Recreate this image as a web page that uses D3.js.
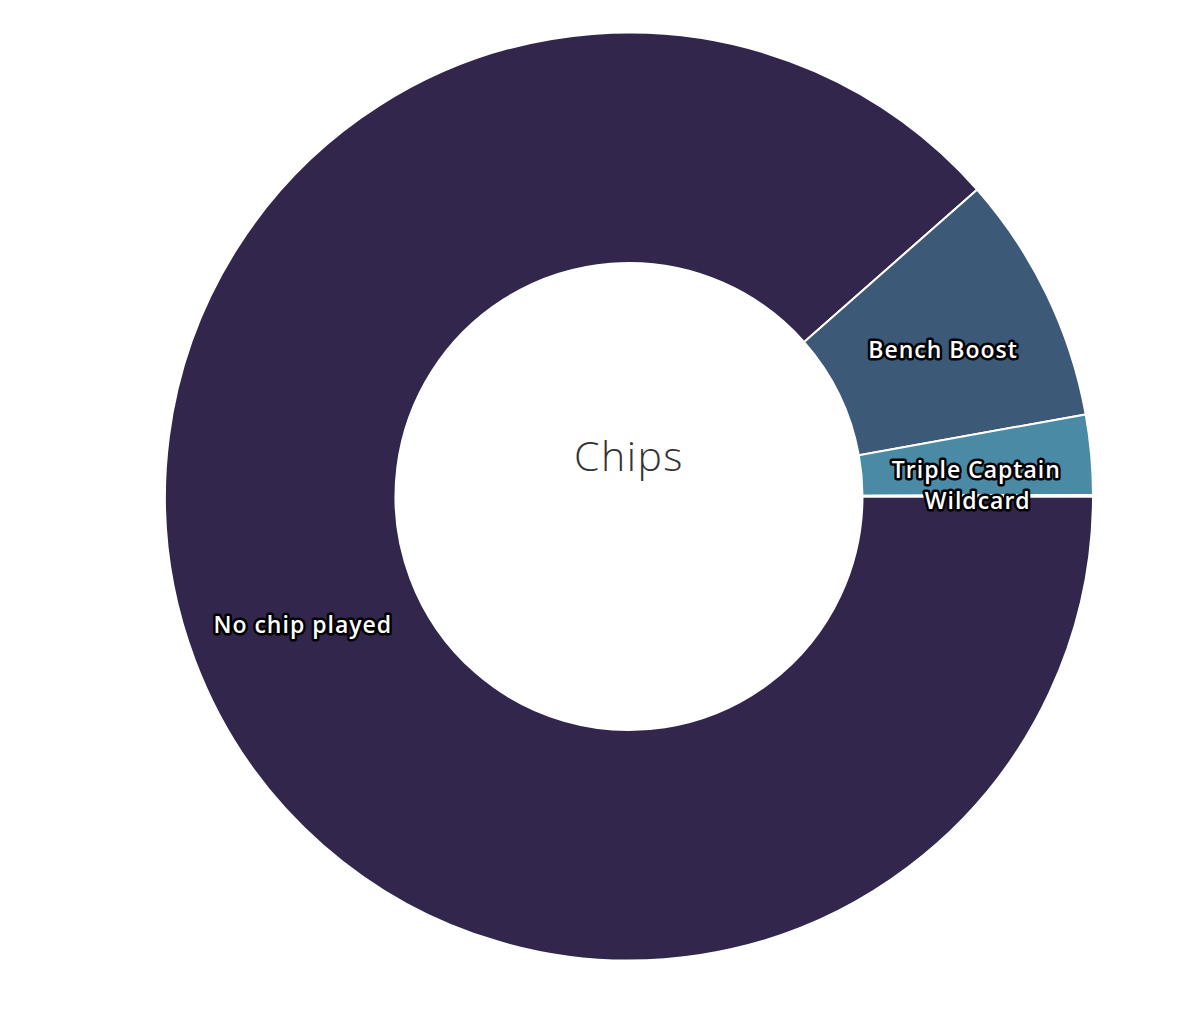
<!DOCTYPE html>
<html>
<head>
<meta charset="utf-8">
<script src="https://cdn.jsdelivr.net/npm/d3@7"></script>
<style>
  body { margin: 0; background: #fff; }
  .lbl { font-family: "Open Sans", Lato, sans-serif; font-weight: 600; font-size: 23px; letter-spacing: 1px;
         fill: #fff; stroke: #000; stroke-width: 5px; stroke-linejoin: round; paint-order: stroke; }
</style>
</head>
<body>
<div id="view"></div>
<script>
var width = 1200, height = 1018;
var cx = 629, cy = 496.5;
var outerR = 464, innerR = 233.5;

// chip usage share (%)
var chips = ["No chip played", "Bench Boost", "Triple Captain", "Wildcard"];
var shares = [88.5, 8.67, 2.78, 0.05];
var colors = ["#33264c", "#3c5a78", "#4a8aa5", "#5fb3b3"];

var svg = d3.select("#view").append("svg")
	.attr("width", width)
	.attr("height", height);

var datas = chips.map(function(c, i) { return { name: c, value: shares[i] }; });

// starts at 3 o'clock, runs clockwise
var pie = d3.pie()
	.sort(null)
	.value(function(d) { return d.value; })
	.startAngle(Math.PI / 2)
	.endAngle(Math.PI / 2 + 2 * Math.PI);

var arc = d3.arc().innerRadius(innerR).outerRadius(outerR);
var color = d3.scaleOrdinal().domain(chips).range(colors);

var g = svg.append("g").attr("transform", "translate(" + cx + "," + cy + ")");
var arcs = pie(datas);

g.selectAll(".slice")
	.data(arcs).enter()
	.append("path")
	.attr("class", "slice")
	.attr("d", arc)
	.style("fill", function(d) { return color(d.data.name); })
	.style("stroke", "#fff")
	.style("stroke-width", 2);

g.selectAll(".lbl")
	.data(arcs).enter()
	.append("text")
	.attr("class", "lbl")
	.attr("transform", function(d) { return "translate(" + arc.centroid(d) + ")"; })
	.attr("text-anchor", "middle")
	.attr("dy", "0.58em")
	.text(function(d) { return d.data.name; });

// centre title
g.append("text")
	.attr("text-anchor", "middle")
	.attr("dy", "0.35em")
	.attr("y", -40)
	.style("font-family", "'Open Sans', sans-serif")
	.style("font-weight", 300)
	.style("font-size", "41px")
	.style("letter-spacing", "1.5px")
	.style("fill", "#333")
	.text("Chips");
</script>
</body>
</html>
